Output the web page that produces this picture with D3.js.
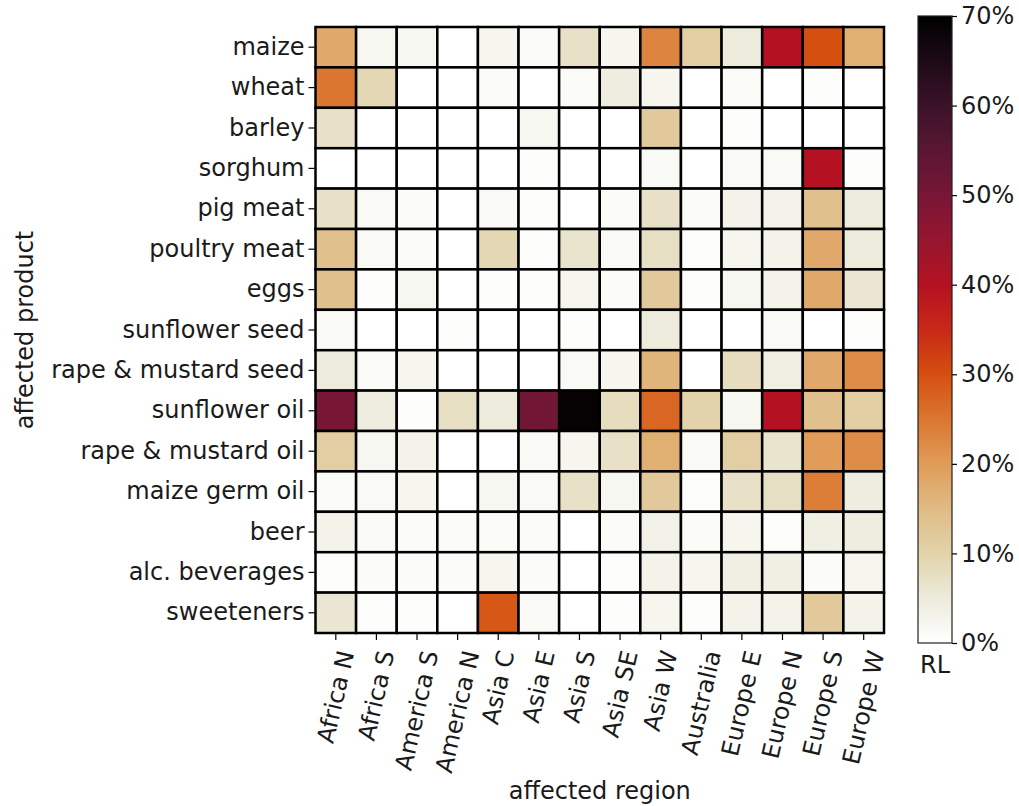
<!DOCTYPE html>
<html>
<head>
<meta charset="utf-8">
<script src="https://cdn.jsdelivr.net/npm/d3@7"></script>
<style>
  body { margin: 0; background: #fff; }
  text { font-family: "DejaVu Sans", sans-serif; fill: #1a1a1a; }
</style>
</head>
<body>
<script>
// affected products (rows) and regions (columns)
var products = ["maize", "wheat", "barley", "sorghum", "pig meat",
    "poultry meat", "eggs", "sunflower seed", "rape & mustard seed",
    "sunflower oil", "rape & mustard oil", "maize germ oil", "beer",
    "alc. beverages", "sweeteners"];
var regions = ["Africa N", "Africa S", "America S", "America N", "Asia C",
    "Asia E", "Asia S", "Asia SE", "Asia W", "Australia", "Europe E",
    "Europe N", "Europe S", "Europe W"];

// relative loss in %, one array per product, same order as regions
var maize        = [18, 2, 2, 0, 2.5, 1, 7, 2.5, 23, 11, 5, 40, 30, 17];
var wheat        = [25, 9, 0, 0, 1, 0, 1, 4.5, 2.5, 0, 1, 0, 0.5, 0];
var barley       = [7, 0, 0, 0, 0, 2, 0, 0, 12, 0, 0.5, 0, 0, 0];
var sorghum      = [0, 0, 0, 0, 0, 0.5, 0, 0, 1.5, 0, 1.5, 1.5, 40, 0.5];
var pigMeat      = [7, 1.5, 1, 0, 1.5, 0.5, 0, 1, 7, 1, 3, 3, 14, 5];
var poultryMeat  = [14, 1.5, 1, 0, 9, 0.5, 6.5, 1.5, 7.5, 0.5, 2.5, 3, 18, 5];
var eggs         = [14, 0.5, 2, 0, 0.5, 0.5, 2.5, 1, 12, 0.5, 2, 3, 18, 6];
var sunflowerSeed = [1.5, 0, 0, 0.5, 0, 0, 0.5, 0, 5, 0, 0, 1.5, 0, 0.5];
var rapeSeed     = [5, 1, 2.5, 0, 0, 0, 1.5, 2.5, 16, 0, 8, 4, 18, 22];
var sunflowerOil = [50, 4.5, 0.5, 7.5, 5, 51, 69, 8, 27, 10, 2, 40, 14, 11];
var rapeOil      = [11, 2, 3, 0, 0, 1.5, 2.5, 7, 17, 1.5, 11, 6.5, 20, 22];
var maizeGermOil = [1, 1.5, 2.5, 0, 2, 1.5, 7, 2, 12, 0.5, 7, 7.5, 24, 4.5];
var beer         = [3, 1.5, 1, 1, 1, 1, 0, 1, 3.5, 1, 2.5, 0.5, 4, 4.5];
var alcBeverages = [0.5, 1, 1, 1, 2.5, 1, 0, 0.5, 3, 2.5, 4, 4, 1, 2.5];
var sweeteners   = [6, 0.5, 0.5, 0, 29, 1.5, 0, 0.5, 2.5, 0.5, 3, 3, 12, 3];

var values = [maize, wheat, barley, sorghum, pigMeat, poultryMeat, eggs,
    sunflowerSeed, rapeSeed, sunflowerOil, rapeOil, maizeGermOil, beer,
    alcBeverages, sweeteners];

var colorTicks = [0, 10, 20, 30, 40, 50, 60, 70];

var width = 1019, height = 806;
var grid = {left: 315.5, right: 884, top: 27, bottom: 633};
var bar = {left: 918, right: 952, top: 16, bottom: 643};
var fontSize = 24;

var svg = d3.select("body").append("svg")
    .attr("width", width)
    .attr("height", height);

// colour ramp
var stops = ["#ffffff", "#ecebdc", "#e2d3aa", "#e0bb84", "#e09c58",
    "#db7630", "#d54f10", "#c92817", "#b41222", "#96152f", "#781636",
    "#5a1633", "#3c1229", "#1c0a16", "#000000"];
var color = d3.scaleLinear()
    .domain(d3.range(stops.length).map(function(i) { return i * 5; }))
    .range(stops)
    .interpolate(d3.interpolateRgb)
    .clamp(true);

var x = d3.scaleBand().domain(regions).range([grid.left, grid.right]);
var y = d3.scaleBand().domain(products).range([grid.top, grid.bottom]);

var cells = [];
values.forEach(function(row, i) {
    row.forEach(function(v, j) {
        cells.push({product: products[i], region: regions[j], value: v});
    });
});

svg.append("g").selectAll("rect")
    .data(cells)
    .enter().append("rect")
    .attr("x", function(d) { return x(d.region); })
    .attr("y", function(d) { return y(d.product); })
    .attr("width", x.bandwidth())
    .attr("height", y.bandwidth())
    .attr("fill", function(d) { return color(d.value); })
    .attr("stroke", "#000")
    .attr("stroke-width", 2.5);

// y axis
var yAxis = svg.append("g")
    .attr("transform", "translate(" + (grid.left - 1) + ",0)")
    .call(d3.axisLeft(y).tickSize(6).tickPadding(4));
yAxis.select(".domain").remove();
yAxis.selectAll("line").attr("stroke", "#000").attr("stroke-width", 1.2);
yAxis.selectAll("text")
    .style("font-size", fontSize + "px")
    .style("font-family", "DejaVu Sans")
    .attr("fill", "#1a1a1a");

// x axis, rotated labels centred under each tick
var xAxis = svg.append("g")
    .attr("transform", "translate(0," + (grid.bottom + 1) + ")")
    .call(d3.axisBottom(x).tickSize(6).tickFormat(""));
xAxis.select(".domain").remove();
xAxis.selectAll("line").attr("stroke", "#000").attr("stroke-width", 1.2);

regions.forEach(function(r) {
    var g = svg.append("g");
    g.append("text")
        .attr("text-anchor", "middle")
        .attr("dy", "0.35em")
        .attr("transform", "rotate(-77)")
        .style("font-size", fontSize + "px")
        .text(r);
    var bb = g.node().getBBox();
    var cx = x(r) + x.bandwidth() / 2;
    g.attr("transform", "translate(" + (cx - (bb.x + bb.width / 2)) + "," +
        (grid.bottom + 15 - bb.y) + ")");
});

svg.append("text")
    .attr("x", (grid.left + grid.right) / 2)
    .attr("y", 799)
    .attr("text-anchor", "middle")
    .style("font-size", fontSize + "px")
    .text("affected region");

svg.append("text")
    .attr("transform", "translate(33," + ((grid.top + grid.bottom) / 2) +
        ") rotate(-90)")
    .attr("text-anchor", "middle")
    .style("font-size", fontSize + "px")
    .text("affected product");

// colour bar
var defs = svg.append("defs");
var grad = defs.append("linearGradient")
    .attr("id", "rl-grad")
    .attr("x1", 0).attr("y1", 1).attr("x2", 0).attr("y2", 0);
stops.forEach(function(c, i) {
    grad.append("stop")
        .attr("offset", (i / (stops.length - 1)))
        .attr("stop-color", c);
});

var cScale = d3.scaleLinear().domain([0, 70]).range([bar.bottom, bar.top]);

svg.append("rect")
    .attr("x", bar.left)
    .attr("y", bar.top)
    .attr("width", bar.right - bar.left)
    .attr("height", bar.bottom - bar.top)
    .attr("fill", "url(#rl-grad)")
    .attr("stroke", "#222")
    .attr("stroke-width", 1.2);

var cAxis = svg.append("g")
    .attr("transform", "translate(" + bar.right + ",0)")
    .call(d3.axisRight(cScale).tickValues(colorTicks).tickSize(5)
        .tickPadding(4).tickFormat(function(d) { return d + "%"; }));
cAxis.select(".domain").remove();
cAxis.selectAll("line").attr("stroke", "#000").attr("stroke-width", 1.2);
cAxis.selectAll("text")
    .style("font-size", fontSize + "px")
    .style("font-family", "DejaVu Sans")
    .attr("fill", "#1a1a1a");

svg.append("text")
    .attr("x", (bar.left + bar.right) / 2)
    .attr("y", 673)
    .attr("text-anchor", "middle")
    .style("font-size", fontSize + "px")
    .text("RL");
</script>
</body>
</html>
